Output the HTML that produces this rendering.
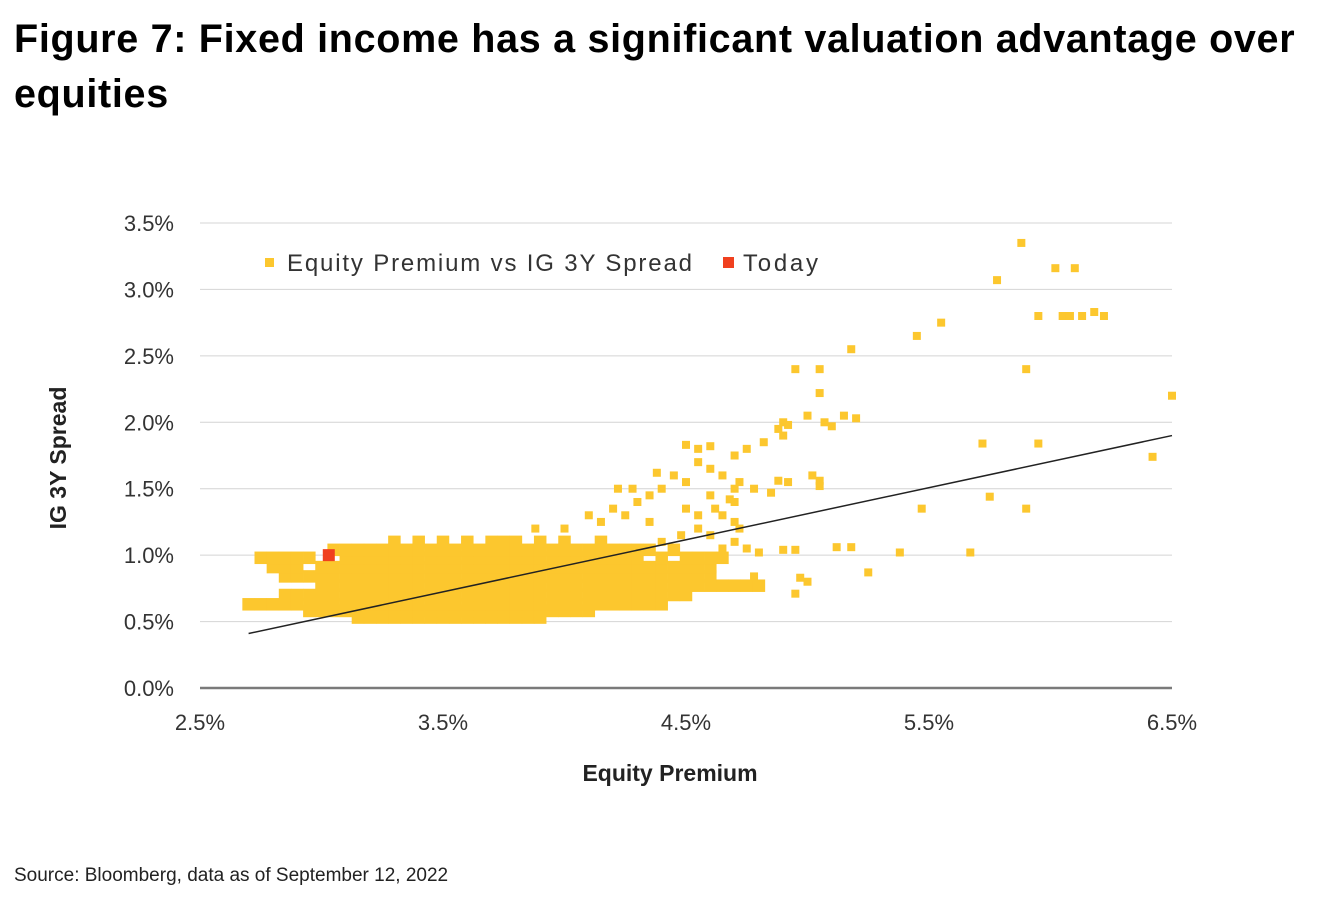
<!DOCTYPE html>
<html><head><meta charset="utf-8">
<style>
html,body{margin:0;padding:0;background:#fff;}
body{width:1342px;height:916px;position:relative;overflow:hidden;font-family:"Liberation Sans",sans-serif;}
#title{position:absolute;left:14px;top:12px;width:1330px;font-weight:900;font-size:39.5px;line-height:55px;color:#000;letter-spacing:0.7px;white-space:nowrap;}
#src{position:absolute;left:14px;top:865px;font-size:19px;color:#222;}
svg{position:absolute;left:0;top:0;}
</style></head><body>
<div id="title">Figure 7: Fixed income has a significant valuation advantage over<br>equities</div>
<svg id="chart" width="1342" height="916"></svg>
<div id="src">Source: Bloomberg, data as of September 12, 2022</div>
<script>
const xTicks=[2.5,3.5,4.5,5.5,6.5];
const yTicks=[0,0.5,1,1.5,2,2.5,3,3.5];
const blobY=[0.53,0.58,0.63,0.70,0.77,0.84,0.91,0.98,1.04,1.10];
const blobX=[
[3.15,3.2,3.25,3.3,3.35,3.4,3.45,3.5,3.55,3.6,3.65,3.7,3.75,3.8,3.85,3.9],
[2.95,3.0,3.05,3.1,3.15,3.2,3.25,3.3,3.35,3.4,3.45,3.5,3.55,3.6,3.65,3.7,3.75,3.8,3.85,3.9,3.95,4.0,4.05,4.1],
[2.7,2.75,2.8,2.85,2.9,2.95,3.0,3.05,3.1,3.15,3.2,3.25,3.3,3.35,3.4,3.45,3.5,3.55,3.6,3.65,3.7,3.75,3.8,3.85,3.9,3.95,4.0,4.05,4.1,4.15,4.2,4.25,4.3,4.35,4.4],
[2.85,2.9,2.95,3.0,3.05,3.1,3.15,3.2,3.25,3.3,3.35,3.4,3.45,3.5,3.55,3.6,3.65,3.7,3.75,3.8,3.85,3.9,3.95,4.0,4.05,4.1,4.15,4.2,4.25,4.3,4.35,4.4,4.45,4.5],
[3.0,3.05,3.1,3.15,3.2,3.25,3.3,3.35,3.4,3.45,3.5,3.55,3.6,3.65,3.7,3.75,3.8,3.85,3.9,3.95,4.0,4.05,4.1,4.15,4.2,4.25,4.3,4.35,4.4,4.45,4.5,4.55,4.6,4.65,4.7,4.75,4.8],
[2.85,2.9,2.95,3.0,3.05,3.1,3.15,3.2,3.25,3.3,3.35,3.4,3.45,3.5,3.55,3.6,3.65,3.7,3.75,3.8,3.85,3.9,3.95,4.0,4.05,4.1,4.15,4.2,4.25,4.3,4.35,4.4,4.45,4.5,4.55,4.6],
[2.8,2.85,2.9,3.0,3.05,3.1,3.15,3.2,3.25,3.3,3.35,3.4,3.45,3.5,3.55,3.6,3.65,3.7,3.75,3.8,3.85,3.9,3.95,4.0,4.05,4.1,4.15,4.2,4.25,4.3,4.35,4.4,4.45,4.5,4.55,4.6],
[2.75,2.8,2.85,2.9,2.95,3.1,3.15,3.2,3.25,3.3,3.35,3.4,3.45,3.5,3.55,3.6,3.65,3.7,3.75,3.8,3.85,3.9,3.95,4.0,4.05,4.1,4.15,4.2,4.25,4.3,4.4,4.5,4.55,4.6,4.65],
[3.05,3.1,3.15,3.2,3.25,3.3,3.35,3.4,3.45,3.5,3.55,3.6,3.65,3.7,3.75,3.8,3.85,3.9,3.95,4.0,4.05,4.1,4.15,4.2,4.25,4.3,4.35,4.45],
[3.3,3.4,3.5,3.6,3.7,3.75,3.8,3.9,4.0,4.15]
];
const outX=[4.95,5.05,5.05,5.0,5.07,5.1,5.15,5.2,5.18,5.45,5.55,5.78,5.88,5.9,5.95,6.02,6.1,6.05,6.08,6.13,6.18,6.22,6.5,6.42,5.95,5.9,5.75,5.72,5.67,5.47,5.38,5.25,5.18,5.12,5.0,4.95,4.97,4.9,4.95,4.78,4.8,5.05,5.05,4.92,4.88,4.85,4.78,4.88,4.9,4.82,4.75,4.7,4.6,4.55,4.5,4.55,4.45,4.4,4.35,4.5,4.6,4.65,4.7,4.62,4.55,4.5,4.3,4.25,4.2,4.15,4.1,4.0,3.88,4.65,4.7,4.72,4.75,4.7,4.65,4.9,5.02,4.92,4.68,4.7,4.72,4.55,4.6,4.48,4.4,4.35,4.28,4.22,4.38,4.6];
const outY=[2.40,2.40,2.22,2.05,2.0,1.97,2.05,2.03,2.55,2.65,2.75,3.07,3.35,2.4,2.8,3.16,3.16,2.8,2.8,2.8,2.83,2.8,2.2,1.74,1.84,1.35,1.44,1.84,1.02,1.35,1.02,0.87,1.06,1.06,0.8,0.71,0.83,1.04,1.04,0.84,1.02,1.52,1.56,1.55,1.56,1.47,1.5,1.95,1.9,1.85,1.8,1.75,1.82,1.8,1.83,1.7,1.6,1.5,1.45,1.55,1.45,1.6,1.5,1.35,1.3,1.35,1.4,1.3,1.35,1.25,1.3,1.2,1.2,1.3,1.25,1.2,1.05,1.1,1.05,2.0,1.6,1.98,1.42,1.4,1.55,1.2,1.15,1.15,1.1,1.25,1.5,1.5,1.62,1.65];
const todayX=[3.03], todayY=[1.0];
const trendX=[2.7,6.5], trendY=[0.41,1.9];

const NS="http://www.w3.org/2000/svg";
const svg=document.getElementById('chart');
const X0=200,X1=1172,Y0=688,Y1=223;
const sx=v=>X0+(v-2.5)/(6.5-2.5)*(X1-X0);
const sy=v=>Y0-(v-0)/(3.5-0)*(Y0-Y1);
function mk(t,a){const e=document.createElementNS(NS,t);for(const k in a)e.setAttribute(k,a[k]);svg.appendChild(e);return e;}
yTicks.forEach(t=>{
  if(t>0){const g=mk('line',{x1:X0,x2:X1,y1:sy(t),y2:sy(t),stroke:'#d4d4d4','stroke-width':1});
  
  }
  const l=mk('text',{x:174,y:sy(t)+8,'text-anchor':'end','font-size':22,fill:'#333','font-family':'Liberation Sans, sans-serif'});
  l.textContent=t.toFixed(1)+'%';
  
  
});
const ax=mk('line',{x1:X0,x2:X1,y1:Y0,y2:Y0,stroke:'#7a7a7a','stroke-width':2.5});


xTicks.forEach(t=>{
  const l=mk('text',{x:sx(t),y:730,'text-anchor':'middle','font-size':22,fill:'#333','font-family':'Liberation Sans, sans-serif'});
  l.textContent=t.toFixed(1)+'%';
  
  
});
function pt(x,y,c,s){const r=mk('rect',{x:sx(x)-s/2,y:sy(y)-s/2,width:s,height:s,fill:c});
  
  }
blobY.forEach((y,i)=>blobX[i].forEach(x=>pt(x,y,'#fcc72e',12.5)));
outX.forEach((x,i)=>pt(x,outY[i],'#fcc72e',8));
const tl=mk('line',{x1:sx(trendX[0]),y1:sy(trendY[0]),x2:sx(trendX[1]),y2:sy(trendY[1]),stroke:'#222','stroke-width':1.5});


todayX.forEach((x,i)=>{const r=mk('rect',{x:sx(x)-6,y:sy(todayY[i])-6,width:12,height:12,fill:'#f0401f'});
  
  });
const l1=mk('rect',{x:265,y:258,width:9,height:9,fill:'#fcc72e'});


const t1=mk('text',{x:287,y:271,'font-size':24,fill:'#333','font-family':'Liberation Sans, sans-serif',textLength:405});t1.textContent='Equity Premium vs IG 3Y Spread';


const l2=mk('rect',{x:723,y:257,width:11,height:11,fill:'#f0401f'});


const t2=mk('text',{x:743,y:271,'font-size':24,fill:'#333','font-family':'Liberation Sans, sans-serif',textLength:75});t2.textContent='Today';


const xt=mk('text',{x:670,y:781,'text-anchor':'middle','font-size':23,'font-weight':'bold',fill:'#222','font-family':'Liberation Sans, sans-serif'});xt.textContent='Equity Premium';


const yt=mk('text',{x:0,y:0,'text-anchor':'middle','font-size':23,'font-weight':'bold',fill:'#222','font-family':'Liberation Sans, sans-serif',transform:'translate(66,458) rotate(-90)'});yt.textContent='IG 3Y Spread';


</script>
</body></html>
